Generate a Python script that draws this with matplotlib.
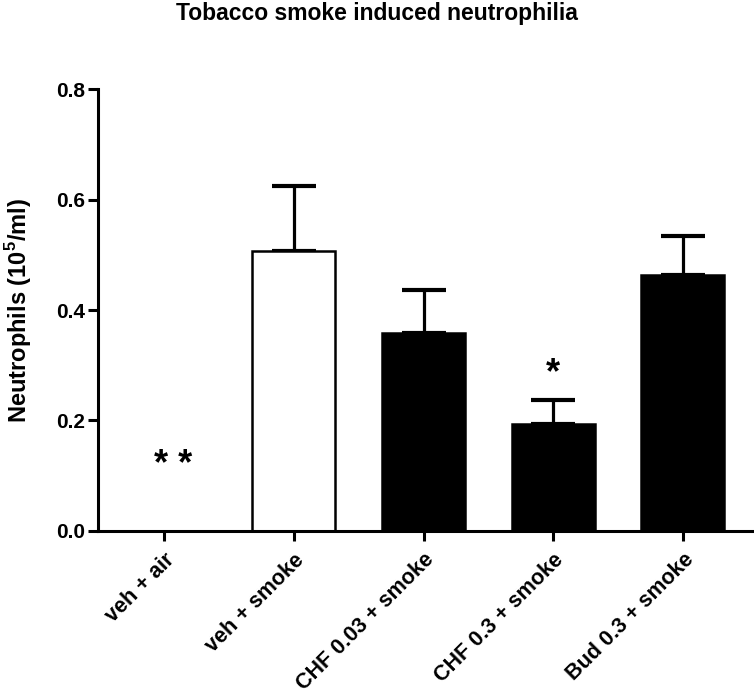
import matplotlib
matplotlib.use("Agg")
import matplotlib.pyplot as plt
import numpy as np

plt.rcParams['font.family'] = ['Liberation Sans', 'DejaVu Sans']
plt.rcParams['font.weight'] = 'bold'
plt.rcParams['mathtext.fontset'] = 'custom'
plt.rcParams['mathtext.rm'] = 'Liberation Sans:bold'
plt.rcParams['mathtext.bf'] = 'Liberation Sans:bold'

categories = ["veh + air", "veh + smoke", "CHF 0.03 + smoke", "CHF 0.3 + smoke", "Bud 0.3 + smoke"]
means = [0.0, 0.507, 0.358, 0.193, 0.463]
sem = [0.0, 0.117, 0.078, 0.043, 0.072]
fills = ["white", "white", "black", "black", "black"]
stars = ["* *", "", "", "*", ""]
star_x_shift = [0.07, 0, 0, 0, 0]
star_y = [0.118, 0, 0, 0.285, 0]
yticks = [0.0, 0.2, 0.4, 0.6, 0.8]

fig = plt.figure(figsize=(7.54, 6.94), dpi=100)
ax = fig.add_axes([0.130, 0.2353, 0.867, 0.636])

x = np.arange(len(categories))
for i in range(len(categories)):
    if means[i] > 0:
        ax.bar(x[i], means[i], width=0.64, color=fills[i], edgecolor='black', linewidth=1.8, zorder=2)
        ax.errorbar(x[i], means[i], yerr=[[0], [sem[i]]], fmt='none', ecolor='black',
                    elinewidth=2.3, capsize=16, capthick=3.0, zorder=1)
    if stars[i]:
        ax.text(x[i] + star_x_shift[i], star_y[i], stars[i], ha='center', va='center',
                fontsize=26, fontweight='bold')

ax.set_xlim(-0.51, 4.53)
ax.set_ylim(0, 0.8)
ax.set_yticks(yticks)
ax.set_yticklabels([f"{v:.1f}" for v in yticks], fontsize=15, fontweight='bold')
ax.set_xticks(x)
ax.set_xticklabels(categories, rotation=45, ha='right', rotation_mode='anchor', fontsize=15.5, fontweight='bold')

for s in ['top', 'right']:
    ax.spines[s].set_visible(False)
for s in ['left', 'bottom']:
    ax.spines[s].set_linewidth(2.2)
ax.tick_params(axis='y', length=7, width=2.2, pad=2)
ax.tick_params(axis='x', length=7.5, width=2.2, pad=6)

ax.set_ylabel(r"Neutrophils (10$^{\mathbf{5}}$/ml)", fontsize=17, fontweight='bold', labelpad=16)
fig.text(0.5, 0.997, "Tobacco smoke induced neutrophilia", ha='center', va='top', fontsize=16.5, fontweight='bold')

fig.savefig("out.png", dpi=100)
